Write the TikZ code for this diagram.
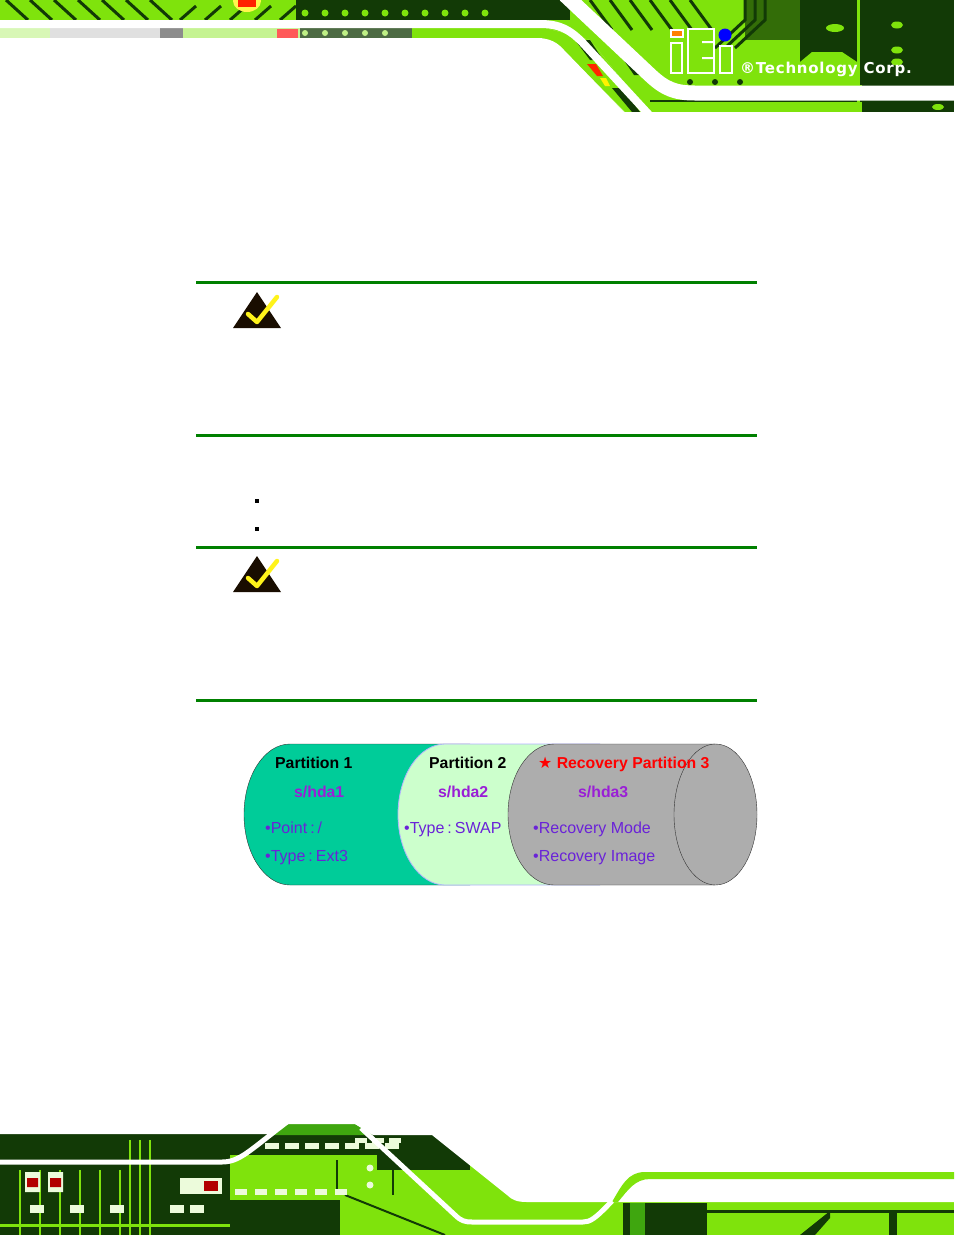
\documentclass[tikz,border=0pt]{standalone}
\usepackage{xcolor}
\usepackage{fontspec}
\setmainfont{Liberation Sans}
\newfontfamily\symbolfont{DejaVu Sans}
\newfontfamily\corpfont[LetterSpace=5]{DejaVu Sans}
\usetikzlibrary{positioning}
\definecolor{boardlime}{HTML}{7FE30C}
\definecolor{boarddark}{HTML}{123A06}
\definecolor{boardmid}{HTML}{3FA60F}
\definecolor{ruleGreen}{HTML}{008000}
\definecolor{partOne}{HTML}{00CC99}
\definecolor{partTwo}{HTML}{CCFFCC}
\definecolor{partThree}{HTML}{ADADAD}
\definecolor{hdaPurple}{HTML}{9A1FD6}
\definecolor{itemPurple}{HTML}{6A22D8}
\colorlet{partsWhite}{white!85!boardlime}
\newcommand{\colonsp}{\hspace{3pt}:\hspace{3pt}}
\tikzset{
  x=1pt, y=-1pt,
  noterule/.style={draw=ruleGreen, line width=3},
  trace/.style={draw=boardlime, line width=1.6},
  darktrace/.style={draw=boarddark, line width=3},
  swoosh/.style={draw=white, line width=7, line join=round},
  title/.style={font=\fontsize{15.8}{18}\selectfont\bfseries\color{black}, inner sep=0, anchor=base west},
  hda/.style={font=\fontsize{15.8}{18}\selectfont\bfseries\color{hdaPurple}, inner sep=0, anchor=base west},
  item/.style={font=\fontsize{16}{18}\selectfont\color{itemPurple}, inner sep=0, anchor=base west},
}
\begin{document}
\begin{tikzpicture}
\useasboundingbox (0,0) rectangle (954,1235);
\fill[white] (0,0) rectangle (954,1235);
% header
\fill[boardlime] (0,0) rectangle (954,112);
\fill[boarddark] (296,0) rectangle (570,20);
\fill[boarddark] (800,0) rectangle (954,85);
\fill[boarddark!70!boardlime] (745,0) rectangle (800,40);
\fill[boarddark] (862,85) rectangle (954,112);
\fill[boarddark] (650,100) rectangle (954,102);
\fill[boardlime] (800,85) -- (800,62) -- (812,52) -- (842,52) -- (857,62) -- (857,85) -- cycle;
\fill[boardlime] (857,0) rectangle (860,112);
\foreach \py in {25,50,62} \fill[boardlime] (897,\py) ellipse (6 and 3.5);
\fill[boardlime] (938,107) ellipse (6 and 3);
\fill[boardlime] (835,28) ellipse (9 and 4);
% traces under the logo
\foreach \px in {745,755,765} \draw[darktrace] (\px,0) -- (\px,20) -- (\px-30,48);
\foreach \px in {590,610,630,650,670,690} \draw[darktrace] (\px,0) -- (\px+22,30);
\foreach \px in {690,715,740} \fill[boarddark] (\px,82) circle (3);
% left of the top band
\foreach \px in {6,30,...,150} \draw[darktrace] (\px,0) -- (\px+22,20);
\foreach \px in {180,205,...,280} \draw[darktrace] (\px,20) -- (\px+16,6);
\foreach \px in {305,325,...,485} \fill[boardlime] (\px,13) circle (3.5);
\fill[yellow!70!white] (247,1) ellipse (14 and 11);
\fill[red!75!orange] (238,0) rectangle (256,7);
% band between the panel and the stripe
\fill[boardlime!45!white] (0,28) -- (545,28) -- (590,40) -- (648,112) -- (0,112) -- cycle;
\fill[white!70!boardlime] (0,28) rectangle (60,38);
\fill[black!12] (50,28) rectangle (160,38);
\fill[black!45] (160,28) rectangle (183,38);
\fill[boarddark!75!white] (300,28) rectangle (412,38);
\foreach \px in {305,325,...,385} \fill[boardlime!50!white] (\px,33) circle (3);
\fill[red!65!white] (277,29) rectangle (298,38);
\fill[boardlime] (412,28) -- (545,28) -- (590,40) -- (648,112) -- (625,112) -- (563,50) -- (535,38) -- (412,38) -- cycle;
\fill[boarddark] (575,40) -- (590,40) -- (603,60) -- (590,60) -- cycle;
\fill[boarddark] (612,88) -- (622,88) -- (640,112) -- (632,112) -- cycle;
\fill[red!70!orange] (587,64) -- (596,64) -- (603,76) -- (597,76) -- cycle;
\fill[yellow] (600,78) -- (606,78) -- (610,86) -- (605,86) -- cycle;
% white panel
\fill[white] (0,38) -- (537,38) .. controls (550,38) and (558,43) .. (564,50) -- (624,112) -- (0,112) -- cycle;
\draw[swoosh, line width=8] (-5,24) -- (540,24) .. controls (560,24) and (570,30) .. (582,42) -- (652,118);
\fill[boarddark] (610,40) -- (622,44) -- (650,75) -- (634,75) -- cycle;
\draw[swoosh, line width=15] (565,-5) -- (650,75) .. controls (665,89) and (675,93) .. (695,93) -- (960,93);
\fill[white] (0,112) rectangle (954,125);
% logo
\fill[white] (670,42) rectangle (683,74);
\fill[boardlime] (672,44) rectangle (681,72);
\fill[white] (670,29) rectangle (684,38);
\fill[orange] (672,31) rectangle (682,36);
\fill[white] (687,28) rectangle (715,74);
\fill[boardlime] (689,30) rectangle (713,72);
\fill[white] (702,41) rectangle (713,43) (702,57) rectangle (713,59);
\fill[white] (719,45) rectangle (733,74);
\fill[boardlime] (721,47) rectangle (731,72);
\fill[blue] (725,35) circle (6.5);
\node[font=\fontsize{15}{16}\selectfont\corpfont\bfseries\color{white}, inner sep=0, anchor=base west] (corp) at (740,73) {®Technology Corp.};
% footer
\fill[boarddark] (0,1134) rectangle (954,1235);
\fill[boardlime] (230,1155) rectangle (480,1200);
\fill[boarddark] (377,1150) rectangle (470,1170);
\fill[boardlime] (340,1195) rectangle (625,1235);
\fill[boardlime] (470,1160) rectangle (540,1235);
\fill[boardlime] (625,1200) rectangle (954,1235);
\fill[boarddark] (623,1203) rectangle (707,1235);
\fill[boardmid] (630,1203) rectangle (645,1235);
\draw[boarddark, line width=3] (707,1211) -- (954,1211);
\draw[boarddark, line width=8] (893,1211) -- (893,1235);
\fill[boarddark] (815,1235) -- (830,1218) -- (830,1211) -- (800,1235) -- cycle;
\draw[boarddark, line width=2] (345,1195) -- (445,1235);
\draw[boarddark, line width=2] (337,1160) -- (337,1195) (393,1160) -- (393,1195);
\foreach \px in {20,40,...,120} \draw[trace] (\px,1170) -- (\px,1235);
\foreach \px in {130,140,150} \draw[trace] (\px,1140) -- (\px,1235);
\draw[trace, line width=3] (0,1225) -- (230,1225);
\foreach \px in {30,70,110,170,190} \fill[partsWhite] (\px,1205) rectangle (\px+14,1213);
\fill[partsWhite] (25,1172) rectangle (40,1192) (48,1172) rectangle (63,1192);
\fill[red!70!black] (27,1178) rectangle (38,1187) (50,1178) rectangle (61,1187);
\fill[partsWhite] (180,1178) rectangle (222,1194);
\fill[red!70!black] (204,1181) rectangle (218,1191);
\foreach \px in {235,255,...,335} \fill[partsWhite] (\px,1189) rectangle (\px+12,1195);
\foreach \px in {265,285,...,385} \fill[partsWhite] (\px,1143) rectangle (\px+14,1149);
\foreach \px in {355,372,...,395} \fill[partsWhite] (\px,1138) rectangle (\px+12,1143);
\foreach \py in {1168,1185} \fill[partsWhite] (370,\py) circle (3.5);
% white panel
\fill[boardmid] (287,1124) -- (355,1124) -- (373,1135) -- (270,1135) -- cycle;
\fill[white] (0,1110) rectangle (954,1124) (0,1124) -- (287,1124) -- (268,1134) -- (0,1134) -- cycle;
\fill[white] (355,1124) -- (954,1124) -- (954,1202) -- (527,1202) .. controls (517,1202) and (512,1200) .. (507,1195) -- (432,1135) -- (373,1135) -- cycle;
\fill[boardlime] (612,1202) .. controls (622,1185) and (628,1172) .. (645,1172) -- (954,1172) -- (954,1179) -- (650,1179) .. controls (635,1179) and (628,1190) .. (618,1202) -- cycle;
\draw[swoosh, line width=5] (361,1128) -- (455,1215) .. controls (461,1221) and (465,1222) .. (472,1222) -- (583,1222) .. controls (590,1222) and (595,1219) .. (612,1201);
\draw[swoosh, line width=5] (-5,1162) -- (222,1162) .. controls (240,1162) and (250,1150) .. (287,1122);
% notes
\draw[noterule] (196,282) -- (757,282);
\draw[noterule] (196,435) -- (757,435);
\draw[noterule] (196,547) -- (757,547);
\draw[noterule] (196,700) -- (757,700);
\foreach \py in {0,264} {
  \fill[black!90!orange] (233,328+\py) -- (257,292+\py) -- (281,328+\py) -- cycle;
  \draw[yellow!90!white, line width=4.5, line cap=round, line join=round] (248,314+\py) -- (257,322+\py) -- (277,297+\py);
}
\fill[black] (255,499) rectangle (259,503);
\fill[black] (255,527) rectangle (259,531);
% partitions
\path[fill=partOne, draw=black!80] (470,744) -- (290,744) arc[start angle=90, end angle=270, x radius=46, y radius=-70.5] -- (470,885);
\fill[partTwo] (600,744) -- (445,744) arc[start angle=90, end angle=270, x radius=47, y radius=-70.5] -- (600,885) -- cycle;
\draw[blue!30, line width=0.8] (600,744) -- (445,744) arc[start angle=90, end angle=270, x radius=47, y radius=-70.5] -- (600,885);
\path[fill=partThree, draw=black!80] (715,744) -- (554,744) arc[start angle=90, end angle=270, x radius=46, y radius=-70.5] -- (715,885);
\path[fill=partThree, draw=black!80] (715.5,814.5) ellipse (41.5 and 70.5);
\node[title] (part1) at (275,768) {Partition 1};
\node[title] (part2) at (429,768) {Partition 2};
\node[title, text=red] (part3) at (538,768) {{\symbolfont ★} Recovery Partition 3};
\node[hda] (hda1) at (294,797) {s/hda1};
\node[hda] (hda2) at (438,797) {s/hda2};
\node[hda] (hda3) at (578,797) {s/hda3};
\node[item] (point) at (265,833) {•Point\colonsp/};
\node[item] (ext3) at (265,861) {•Type\colonsp Ext3};
\node[item] (swap) at (404,833) {•Type\colonsp SWAP};
\node[item] (mode) at (533,833) {•Recovery Mode};
\node[item] (image) at (533,861) {•Recovery Image};
\end{tikzpicture}
\end{document}
